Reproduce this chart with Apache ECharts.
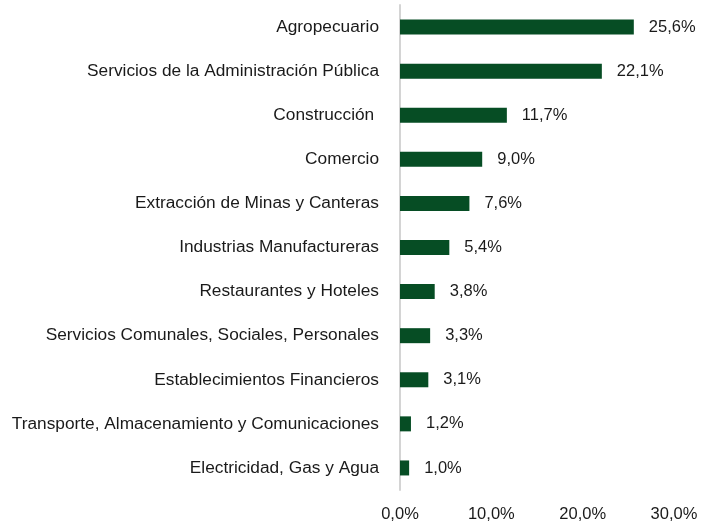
<!DOCTYPE html>
<html><head><meta charset="utf-8">
<script src="https://cdn.jsdelivr.net/npm/echarts@6/dist/echarts.min.js"></script>
<style>html,body{margin:0;padding:0;background:#fff}#c{width:701px;height:529px}</style>
</head><body><div id="c"></div>
<script>
const categories = [
  "Agropecuario",
  "Servicios de la Administración Pública",
  "Construcción ",
  "Comercio",
  "Extracción de Minas y Canteras",
  "Industrias Manufactureras",
  "Restaurantes y Hoteles",
  "Servicios Comunales, Sociales, Personales",
  "Establecimientos Financieros",
  "Transporte, Almacenamiento y Comunicaciones",
  "Electricidad, Gas y Agua"
];
const values = [25.6, 22.1, 11.7, 9.0, 7.6, 5.4, 3.8, 3.3, 3.1, 1.2, 1.0];
const FONT = "'Liberation Sans', Arial, sans-serif";
const fmt = v => v.toFixed(1).replace('.', ',') + '%';
const chart = echarts.init(document.getElementById('c'), null, {renderer: 'canvas'});
chart.setOption({
  animation: false,
  grid: {left: 400, right: 27, top: 5, bottom: 39, containLabel: false},
  xAxis: {
    type: 'value', min: 0, max: 30, interval: 10,
    axisLine: {show: false}, axisTick: {show: false}, splitLine: {show: false},
    axisLabel: {formatter: v => fmt(v), color: '#1a1a1a', fontSize: 16.5, fontFamily: FONT, margin: 16}
  },
  yAxis: {
    type: 'category', data: categories.slice().reverse(),
    axisLine: {show: true, lineStyle: {color: '#d4d4d4', width: 2}},
    axisTick: {show: false},
    axisLabel: {color: '#1a1a1a', fontSize: 17.3, fontFamily: FONT, margin: 21}
  },
  series: [{
    type: 'bar', data: values.slice().reverse(), barWidth: 15,
    itemStyle: {color: '#064d24'},
    label: {show: true, position: 'right', distance: 15, formatter: p => fmt(p.value),
      color: '#1a1a1a', fontSize: 16.5, fontFamily: FONT}
  }]
});
</script></body></html>
